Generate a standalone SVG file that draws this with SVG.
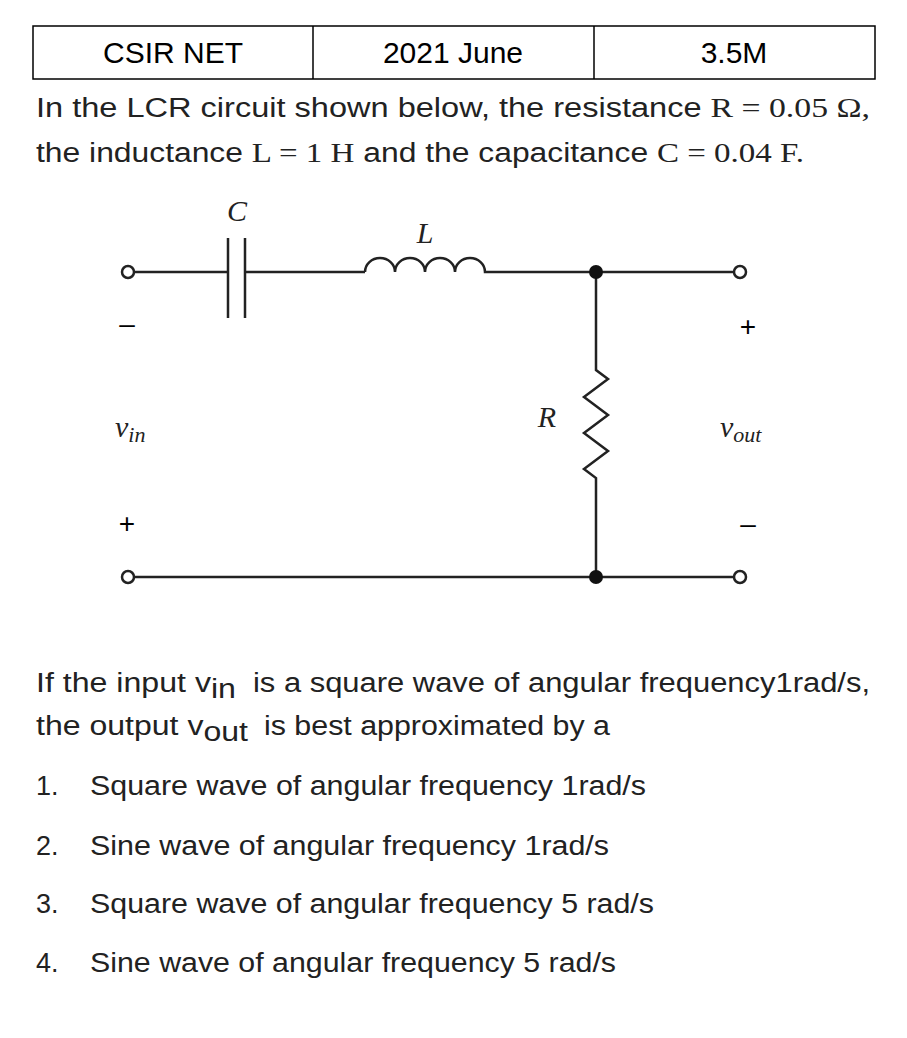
<svg xmlns="http://www.w3.org/2000/svg" width="907" height="1038" viewBox="0 0 907 1038">
<style>
.t{font-family:"Liberation Sans",Arial,sans-serif;font-size:30px;fill:#000}
.q{font-family:"Liberation Sans",Arial,sans-serif;font-size:27px;fill:#222}
.m{font-family:"Liberation Serif",serif;font-size:28px}
.s{font-family:"Liberation Serif",serif;font-style:italic;fill:#222}
.w{stroke:#222;stroke-width:2.5;fill:none}
</style>
<rect width="907" height="1038" fill="#fff"/>
<g id="table">
<rect x="33" y="26" width="842" height="53" fill="none" stroke="#000" stroke-width="1.5"/>
<line x1="313" y1="26" x2="313" y2="79" stroke="#000" stroke-width="1.5"/>
<line x1="594" y1="26" x2="594" y2="79" stroke="#000" stroke-width="1.5"/>
<text class="t" x="173" y="63" text-anchor="middle">CSIR NET</text>
<text class="t" x="453" y="63" text-anchor="middle">2021 June</text>
<text class="t" x="734" y="63" text-anchor="middle">3.5M</text>
</g>
<g id="question">
<text class="q" x="36" y="117" textLength="834" lengthAdjust="spacingAndGlyphs">In the LCR circuit shown below, the resistance <tspan class="m">R = 0.05 Ω,</tspan></text>
<text class="q" x="36" y="162" textLength="768" lengthAdjust="spacingAndGlyphs">the inductance <tspan class="m">L = 1 H</tspan> and the capacitance <tspan class="m">C = 0.04 F.</tspan></text>
</g>
<g id="connectors">
<path class="w" d="M134 272H228M228 238V318M245 238V318M245 272H365"/>
<path class="w" d="M365 272a15 14 0 0 1 30 0a15 14 0 0 1 30 0a15 14 0 0 1 30 0a15 14 0 0 1 30 0H734"/>
<path class="w" d="M596 272V370l12 9l-24 18l24 18l-24 18l24 18l-24 18l12 9V577"/>
<path class="w" d="M134 577H734"/>
<circle cx="128" cy="272" r="6" class="w" fill="#fff"/>
<circle cx="740" cy="272" r="6" class="w" fill="#fff"/>
<circle cx="128" cy="577" r="6" class="w" fill="#fff"/>
<circle cx="740" cy="577" r="6" class="w" fill="#fff"/>
<circle cx="596" cy="272" r="7" fill="#111"/>
<circle cx="596" cy="577" r="7" fill="#111"/>
</g>
<g id="labels">
<text class="s" x="237" y="221" font-size="30" text-anchor="middle">C</text>
<text class="s" x="425" y="243" font-size="30" text-anchor="middle">L</text>
<text class="s" x="547" y="427" font-size="30" text-anchor="middle">R</text>
<text class="s" x="115" y="437" font-size="30">v<tspan font-size="22" dy="5">in</tspan></text>
<text class="s" x="720" y="437" font-size="30">v<tspan font-size="22" dy="5">out</tspan></text>
<text x="127" y="333" font-family="Liberation Sans" font-size="28" text-anchor="middle">–</text>
<text x="127" y="533" font-family="Liberation Sans" font-size="28" text-anchor="middle">+</text>
<text x="748" y="336" font-family="Liberation Sans" font-size="28" text-anchor="middle">+</text>
<text x="748" y="533" font-family="Liberation Sans" font-size="28" text-anchor="middle">–</text>
</g>
<g id="options">
<text class="q" x="36" y="692" textLength="200" lengthAdjust="spacingAndGlyphs">If the input v<tspan dy="6">in</tspan></text>
<text class="q" x="253" y="692" textLength="617" lengthAdjust="spacingAndGlyphs">is a square wave of angular frequency1rad/s,</text>
<text class="q" x="36" y="735" textLength="212" lengthAdjust="spacingAndGlyphs">the output v<tspan dy="6">out</tspan></text>
<text class="q" x="264" y="735" textLength="346" lengthAdjust="spacingAndGlyphs">is best approximated by a</text>
<text class="q" x="36" y="795">1.</text><text class="q" x="90" y="795" textLength="556" lengthAdjust="spacingAndGlyphs">Square wave of angular frequency 1rad/s</text>
<text class="q" x="36" y="855">2.</text><text class="q" x="90" y="855" textLength="519" lengthAdjust="spacingAndGlyphs">Sine wave of angular frequency 1rad/s</text>
<text class="q" x="36" y="913">3.</text><text class="q" x="90" y="913" textLength="564" lengthAdjust="spacingAndGlyphs">Square wave of angular frequency 5 rad/s</text>
<text class="q" x="36" y="972">4.</text><text class="q" x="90" y="972" textLength="526" lengthAdjust="spacingAndGlyphs">Sine wave of angular frequency 5 rad/s</text>
</g>
</svg>
